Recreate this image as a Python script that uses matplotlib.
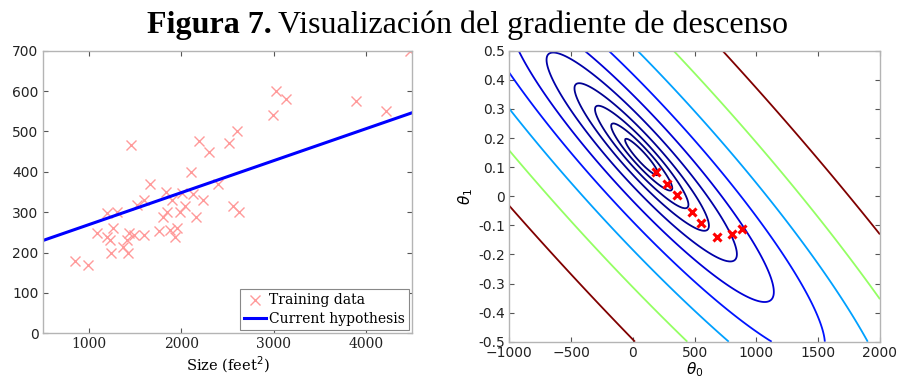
import numpy as np
import matplotlib
matplotlib.use('Agg')
import matplotlib.pyplot as plt
from matplotlib.colors import Normalize

# house size (feet^2) and price (in $1000)
size_sqft = [850, 994, 1092, 1193, 1200, 1229, 1236, 1265, 1308, 1366, 1409, 1420,
             1438, 1452, 1492, 1517, 1597, 1597, 1661, 1762, 1806, 1831, 1849, 1878,
             1896, 1932, 1957, 1986, 2004, 2040, 2101, 2130, 2159, 2195, 2231, 2300,
             2394, 2520, 2563, 2606, 2628, 2996, 3025, 3133, 3890, 4212, 4475]
price = [180, 169, 249, 299, 239, 231, 200, 260, 301, 213, 231, 200,
         249, 466, 243, 318, 330, 243, 370, 253, 287, 349, 300, 256,
         330, 239, 260, 300, 347, 315, 400, 345, 287, 476, 330, 450,
         370, 471, 315, 501, 300, 541, 601, 581, 575, 551, 700]

# current hypothesis h(x) = theta0 + theta1 * x
hyp_theta0 = 190
hyp_theta1 = 0.0792

# gradient descent steps shown on the contour plot
path_theta0 = [886, 805, 678, 551, 476, 355, 274, 187]
path_theta1 = [-0.114, -0.130, -0.139, -0.091, -0.054, 0.003, 0.042, 0.082]

# cost contour levels
cost_levels = [3.3e3, 6.2e3, 1.17e4, 2.2e4, 4.2e4, 7.9e4, 1.5e5, 2.85e5, 5.3e5, 1.0e6]

sans = 'DejaVu Sans'
serif = 'DejaVu Serif'
spine_gray = '#b4b4b4'
tick_size = 10


def style_axes(ax):
    for s in ax.spines.values():
        s.set_color(spine_gray)
        s.set_linewidth(1.0)
    ax.tick_params(direction='in', top=True, right=True, length=3.5,
                   color='#555555', labelsize=tick_size, labelcolor='#222222', pad=3)


fig = plt.figure(figsize=(8.99, 3.79), dpi=100)

# title: bold part + regular part
t1 = fig.text(147 / 899, 0.912, 'Figura 7.', fontsize=23, fontweight='bold',
              family='Liberation Serif', va='baseline', ha='left')
fig.canvas.draw()
bb = t1.get_window_extent()
fig.text((bb.x1 + 6) / 899, 0.912, 'Visualización del gradiente de descenso',
         fontsize=23, family='Liberation Serif', va='baseline', ha='left')

# left: training data + hypothesis
ax1 = fig.add_axes([0.0475, 0.1206, 0.4111, 0.7457])
x = np.array(size_sqft)
y = np.array(price)
ax1.plot(x, y, 'x', color='#ff9a9a', markersize=7, markeredgewidth=1.0,
         label='Training data')
xs = np.array([500, 4500])
ax1.plot(xs, hyp_theta0 + hyp_theta1 * xs, color='#0000ff', linewidth=2.2,
         label='Current hypothesis')
ax1.set_xlim(500, 4500)
ax1.set_ylim(0, 700)
ax1.set_xticks([1000, 2000, 3000, 4000])
ax1.set_yticks(range(0, 701, 100))
style_axes(ax1)
for lab in ax1.get_xticklabels():
    lab.set_family(serif)
ax1.set_xlabel('Size (feet$^2$)', family=serif, fontsize=10.5, labelpad=2)
leg = ax1.legend(loc='lower right', prop={'family': serif, 'size': 10},
                 fancybox=False, framealpha=1, edgecolor='#888888',
                 borderpad=0.3, handlelength=1.6, handletextpad=0.2,
                 labelspacing=0.3, borderaxespad=0.25)
leg.get_frame().set_linewidth(0.8)

# right: cost function contours
ax2 = fig.add_axes([0.5665, 0.0984, 0.4123, 0.7678])
t0 = np.linspace(-1000, 2000, 301)
t1g = np.linspace(-0.5, 0.5, 301)
T0, T1 = np.meshgrid(t0, t1g)
resid = T0[..., None] + T1[..., None] * x - y
J = (resid ** 2).mean(axis=-1) / 2
ax2.contour(T0, T1, J, levels=cost_levels, cmap='jet',
            norm=Normalize(vmin=min(cost_levels), vmax=max(cost_levels)),
            linewidths=1.3)
ax2.plot(path_theta0, path_theta1, 'x', color='#ff0000', markersize=6,
         markeredgewidth=2.2, linestyle='none')
ax2.set_xlim(-1000, 2000)
ax2.set_ylim(-0.5, 0.5)
ax2.set_xticks(range(-1000, 2001, 500))
ax2.set_yticks(np.round(np.arange(-0.5, 0.51, 0.1), 1))
ax2.set_yticklabels(['-0.5', '-0.4', '-0.3', '-0.2', '-0.1', '0',
                     '0.1', '0.2', '0.3', '0.4', '0.5'])
style_axes(ax2)
ax2.set_xlabel(r'$\theta_0$', fontsize=11, labelpad=0)
ax2.set_ylabel(r'$\theta_1$', fontsize=11, labelpad=2)

fig.savefig('out.png', dpi=100)
